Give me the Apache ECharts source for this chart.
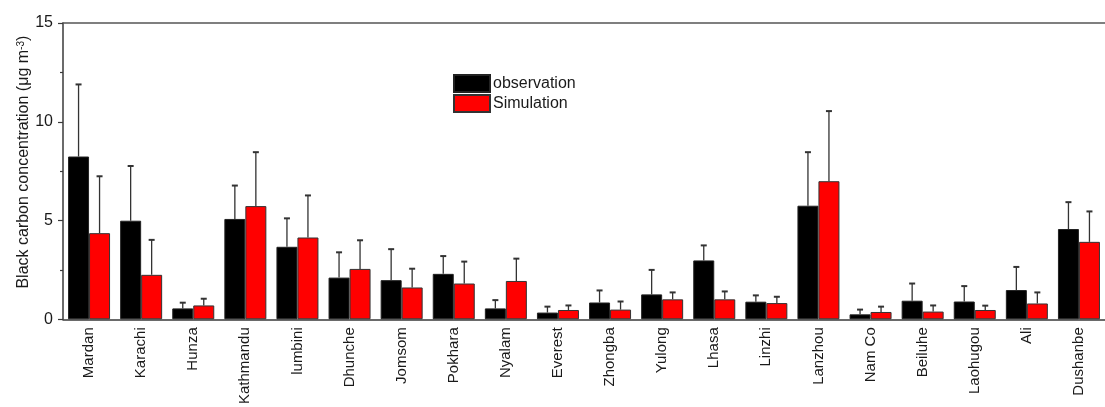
<!DOCTYPE html>
<html>
<head>
<meta charset="utf-8">
<title>Black carbon concentration</title>
<script src="https://cdn.jsdelivr.net/npm/echarts@6/dist/echarts.min.js"></script>
<style>
  html, body { margin: 0; padding: 0; background: #fff; }
  #chart { width: 1105px; height: 407px; }
</style>
</head>
<body>
<div id="chart"></div>
<script>
// Sites, observed and simulated black carbon (μg m-3) with one-sided error bars
const sites = ['Mardan', 'Karachi', 'Hunza', 'Kathmandu', 'lumbini', 'Dhunche', 'Jomsom',
  'Pokhara', 'Nyalam', 'Everest', 'Zhongba', 'Yulong', 'Lhasa', 'Linzhi', 'Lanzhou',
  'Nam Co', 'Beiluhe', 'Laohugou', 'Ali', 'Dushanbe'];

const observation = [8.24, 4.99, 0.55, 5.08, 3.67, 2.11, 1.98, 2.30, 0.55, 0.34,
  0.85, 1.26, 2.98, 0.89, 5.75, 0.25, 0.94, 0.90, 1.48, 4.57];
const observationErr = [3.65, 2.77, 0.29, 1.69, 1.44, 1.28, 1.57, 0.90, 0.42, 0.30,
  0.61, 1.24, 0.76, 0.32, 2.71, 0.24, 0.87, 0.78, 1.17, 1.36];

const simulation = [4.36, 2.25, 0.70, 5.73, 4.14, 2.55, 1.61, 1.81, 1.94, 0.47,
  0.49, 1.01, 1.01, 0.82, 6.99, 0.37, 0.39, 0.47, 0.80, 3.92];
const simulationErr = [2.88, 1.77, 0.34, 2.73, 2.13, 1.45, 0.95, 1.11, 1.13, 0.23,
  0.41, 0.35, 0.40, 0.32, 3.55, 0.27, 0.31, 0.22, 0.56, 1.54];

const yTicks = { min: 0, max: 15, interval: 5 };

const FONT = '"Liberation Sans", Arial, sans-serif';
const TEXT = '#1a1a1a';
const AXIS = '#3a3a3a';
const BAR_W = 21;

function errorItems(values, errs) {
  return values.map((v, i) => [i, v, errs[i]]);
}

// Vertical whisker with a short cap, shifted onto its bar within the category
function whisker(offset) {
  return function (params, api) {
    const i = api.value(0);
    const m = api.value(1);
    const e = api.value(2);
    const base = api.coord([i, m]);
    const top = api.coord([i, m + e]);
    const x = base[0] + offset;
    return {
      type: 'group',
      children: [
        { type: 'line', shape: { x1: x, y1: base[1], x2: x, y2: top[1] },
          style: { stroke: '#333', lineWidth: 1.3 } },
        { type: 'line', shape: { x1: x - 3, y1: top[1], x2: x + 3, y2: top[1] },
          style: { stroke: '#333', lineWidth: 2 } }
      ]
    };
  };
}

const chart = echarts.init(document.getElementById('chart'), null, { renderer: 'canvas' });

chart.setOption({
  animation: false,
  backgroundColor: '#fff',
  textStyle: { fontFamily: FONT, color: TEXT },
  grid: { left: 63, right: 0, top: 23, bottom: 85, containLabel: false },
  legend: {
    data: ['observation', 'Simulation'],
    orient: 'vertical',
    left: 453,
    top: 74,
    padding: 0,
    icon: 'rect',
    itemWidth: 36,
    itemHeight: 17,
    itemGap: 1,
    textStyle: { fontFamily: FONT, fontSize: 16, color: TEXT, padding: [0, 0, 0, -2] }
  },
  xAxis: [
    {
      type: 'category',
      data: sites,
      position: 'bottom',
      axisLine: { lineStyle: { color: AXIS, width: 1.5 } },
      axisTick: { alignWithLabel: true, length: 5, lineStyle: { color: AXIS, width: 1.2 } },
      axisLabel: { rotate: 90, margin: 8, fontSize: 15, color: TEXT, fontFamily: FONT, interval: 0 },
      splitLine: { show: false }
    },
    {
      // short ticks on the category boundaries
      type: 'category',
      data: sites,
      position: 'bottom',
      axisLine: { show: false },
      axisTick: { alignWithLabel: false, length: 3, lineStyle: { color: AXIS, width: 1.2 } },
      axisLabel: { show: false },
      splitLine: { show: false }
    },
    {
      // frame line along the top
      type: 'category',
      data: sites,
      position: 'top',
      axisLine: { lineStyle: { color: '#555', width: 1.5 } },
      axisTick: { show: false },
      axisLabel: { show: false },
      splitLine: { show: false }
    }
  ],
  yAxis: {
    type: 'value',
    min: yTicks.min,
    max: yTicks.max,
    interval: yTicks.interval,
    name: 'Black carbon concentration (μg m{sup|-3})',
    nameLocation: 'middle',
    nameGap: 31,
    nameMoveOverlap: false,
    nameTextStyle: {
      fontFamily: FONT,
      fontSize: 16,
      color: TEXT,
      padding: [0, 0, 0, 18],
      rich: {
        sup: { fontSize: 10, fontFamily: FONT, color: TEXT, verticalAlign: 'top', padding: [0, 0, 6, 0] }
      }
    },
    axisLine: { show: true, lineStyle: { color: AXIS, width: 1.5 } },
    axisTick: { show: true, length: 5, lineStyle: { color: AXIS, width: 1.2 } },
    minorTick: { show: true, splitNumber: 2, length: 3, lineStyle: { color: AXIS, width: 1.2 } },
    axisLabel: { fontSize: 16, color: TEXT, fontFamily: FONT, margin: 10 },
    splitLine: { show: false },
    minorSplitLine: { show: false }
  },
  series: [
    {
      name: 'observation',
      type: 'bar',
      xAxisIndex: 0,
      data: observation,
      barWidth: BAR_W,
      barGap: '0%',
      itemStyle: { color: '#000', borderColor: '#222', borderWidth: 1 },
      z: 2
    },
    {
      name: 'Simulation',
      type: 'bar',
      xAxisIndex: 0,
      data: simulation,
      barWidth: BAR_W,
      barGap: '0%',
      itemStyle: { color: '#ff0000', borderColor: '#333', borderWidth: 1 },
      z: 2
    },
    {
      name: 'observation error',
      type: 'custom',
      xAxisIndex: 0,
      renderItem: whisker(-BAR_W / 2),
      data: errorItems(observation, observationErr),
      encode: { x: 0, y: 1 },
      clip: false,
      z: 3
    },
    {
      name: 'Simulation error',
      type: 'custom',
      xAxisIndex: 0,
      renderItem: whisker(BAR_W / 2),
      data: errorItems(simulation, simulationErr),
      encode: { x: 0, y: 1 },
      clip: false,
      z: 3
    }
  ]
});
</script>
</body>
</html>
